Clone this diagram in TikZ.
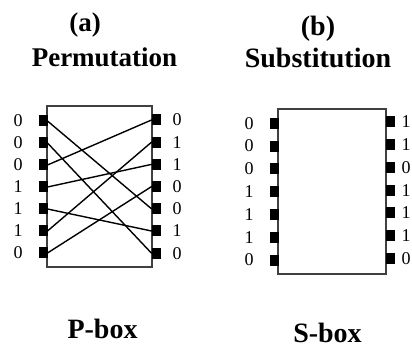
\documentclass[tikz,border=0pt]{standalone}
\usepackage{fontspec}
\setmainfont{Liberation Serif}
\begin{document}
\begin{tikzpicture}[x=1pt,y=-1pt,
  pinbox/.style={fill=black,draw=none,minimum width=9pt,minimum height=11pt,inner sep=0pt,outer sep=0pt},
  bit/.style={font=\fontsize{18}{18}\selectfont,inner sep=0pt},
  ttl/.style={font=\fontsize{27}{27}\selectfont\bfseries,inner sep=0pt,anchor=base},
  blk/.style={draw=black!75,line width=1.4pt,fill=white,inner sep=0pt,outer sep=0pt},
  wire/.style={line width=1.4pt,line cap=round}]
\useasboundingbox (0,0) rectangle (412,347);

% titles
\node[ttl] (ta) at (85,32) {(a)};
\node[ttl] (tp) at (104.5,67) {Permutation};
\node[ttl,font=\fontsize{28}{28}\selectfont\bfseries] (tb) at (318,36) {(b)};
\node[ttl,font=\fontsize{28}{28}\selectfont\bfseries] (ts) at (318,68) {Substitution};
\node[ttl,font=\fontsize{28}{28}\selectfont\bfseries] (lp) at (102.5,338) {P-box};
\node[ttl,font=\fontsize{28}{28}\selectfont\bfseries] (ls) at (327.5,342.5) {S-box};

% boxes
\node[blk,minimum width=105pt,minimum height=161pt] (pbox) at (99.5,186.5) {};
\node[blk,minimum width=108pt,minimum height=165pt] (sbox) at (332,191.5) {};

% P-box pins and bits
\foreach \i/\b in {1/0,2/0,3/0,4/1,5/1,6/1,7/0}{
  \node[pinbox,anchor=east] (pl\i) at (47.5,{121+22*(\i-1)}) {};
  \node[bit] (pbl\i) at (18,{121+22*(\i-1)}) {\b};
}
\foreach \i/\b in {1/0,2/1,3/1,4/0,5/0,6/1,7/0}{
  \node[pinbox,anchor=west] (pr\i) at (151.5,{120+22.2*(\i-1)}) {};
  \node[bit] (pbr\i) at (177,{120+22.2*(\i-1)}) {\b};
}
% permutation wires
\foreach \a/\c in {1/5,2/7,3/1,4/3,5/6,6/2,7/4}{
  \draw[wire] (pl\a.east) -- (pr\c.west);
}

% S-box pins and bits
\foreach \i/\b in {1/0,2/0,3/0,4/1,5/1,6/1,7/0}{
  \node[pinbox,anchor=east] (sl\i) at (278.5,{123.3+22.8*(\i-1)}) {};
  \node[bit] (sbl\i) at (249,{123.3+22.8*(\i-1)}) {\b};
}
\foreach \i/\b in {1/1,2/1,3/0,4/1,5/1,6/1,7/0}{
  \node[pinbox,anchor=west] (sr\i) at (385.5,{122+22.7*(\i-1)}) {};
  \node[bit] (sbr\i) at (406,{122+22.7*(\i-1)}) {\b};
}
\end{tikzpicture}
\end{document}
